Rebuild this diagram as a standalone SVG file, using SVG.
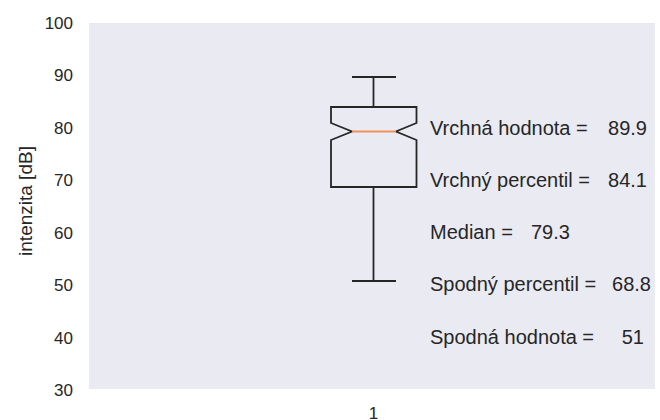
<svg xmlns="http://www.w3.org/2000/svg" width="660" height="420" viewBox="0 0 660 420">
<style>
text{font-family:"Liberation Sans",Arial,sans-serif;fill:#262626}
.tick{font-size:17px;text-anchor:end}
.lbl{font-size:20px}
.num{font-size:20px;text-anchor:end}
.box{fill:none;stroke:#262626;stroke-width:1.8;stroke-linejoin:miter}
</style>
<rect width="660" height="420" fill="#ffffff"/>
<rect id="plot-area" x="89" y="23" width="566" height="366" fill="#eaeaf2"/>
<g id="y-ticks">
<text class="tick" x="73" y="28.5">100</text>
<text class="tick" x="73" y="81">90</text>
<text class="tick" x="73" y="133.5">80</text>
<text class="tick" x="73" y="186">70</text>
<text class="tick" x="73" y="238.5">60</text>
<text class="tick" x="73" y="291">50</text>
<text class="tick" x="73" y="343.5">40</text>
<text class="tick" x="73" y="396">30</text>
</g>
<text id="y-label" transform="translate(32,201) rotate(-90)" text-anchor="middle" font-size="19">intenzita [dB]</text>
<text id="x-tick" x="373.5" y="419" text-anchor="middle" font-size="17">1</text>
<g id="boxplot">
<line class="box" x1="373.5" y1="77" x2="373.5" y2="107"/>
<line class="box" x1="352" y1="77" x2="396" y2="77"/>
<path class="box" d="M331,107 H416.5 V123 L396,131.5 L416.5,140 V187 H331 V140 L352,131.5 L331,123 Z"/>
<line class="box" x1="373.5" y1="187" x2="373.5" y2="281"/>
<line class="box" x1="352" y1="281" x2="396" y2="281"/>
<line x1="352" y1="131.5" x2="396" y2="131.5" stroke="#f0905a" stroke-width="1.8"/>
</g>
<g id="stats">
<text class="lbl" x="430" y="135">Vrchná hodnota =</text>
<text class="num" x="647" y="135">89.9</text>
<text class="lbl" x="430" y="186.5">Vrchný percentil =</text>
<text class="num" x="647" y="186.5">84.1</text>
<text class="lbl" x="430" y="239">Median =</text>
<text class="lbl" x="531" y="239">79.3</text>
<text class="lbl" x="430" y="291">Spodný percentil =</text>
<text class="num" x="651" y="291">68.8</text>
<text class="lbl" x="430" y="344">Spodná hodnota =</text>
<text class="num" x="644" y="344">51</text>
</g>
</svg>
